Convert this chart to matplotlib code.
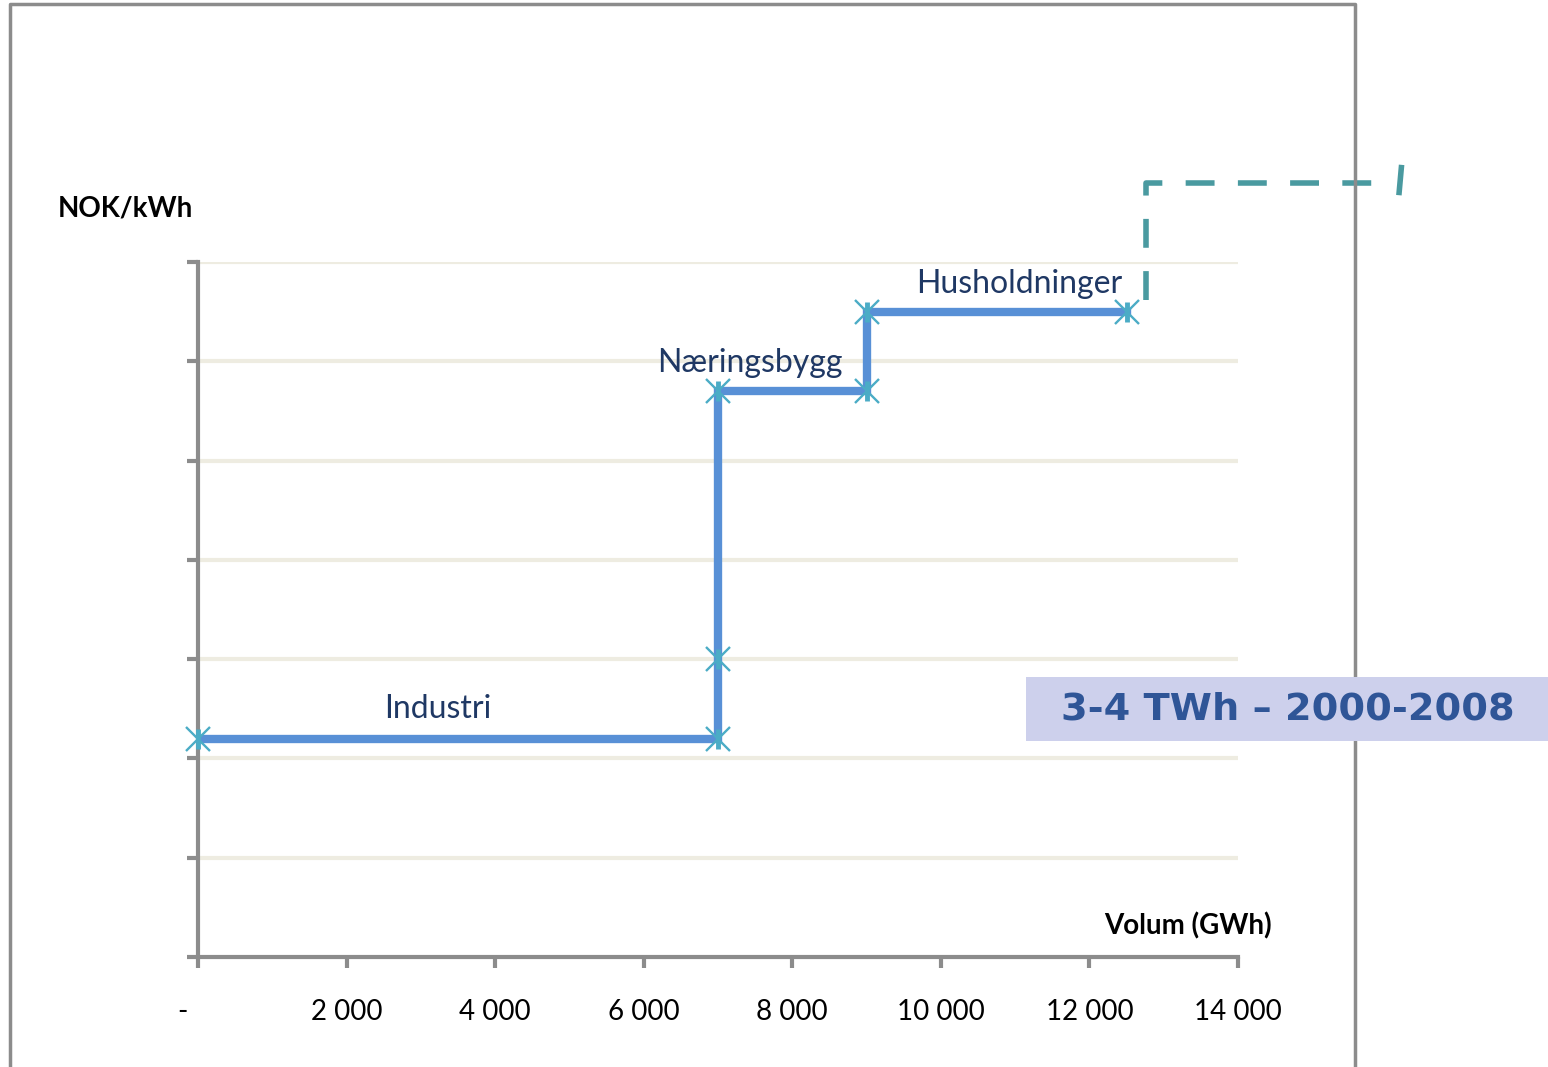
import matplotlib.pyplot as plt
import matplotlib.transforms as mtransforms
from matplotlib.lines import Line2D
from matplotlib.patches import Rectangle

# step curve: volume (GWh) vs cost (NOK/kWh)
volum = [0, 7000, 7000, 7000, 9000, 9000, 12500]
kostnad = [2.2, 2.2, 3.0, 5.7, 5.7, 6.5, 6.5]

# dashed continuation beyond the chart
volum_dash = [12760, 12760, 15850]
kostnad_dash = [6.62, 7.8, 7.8]

x_ticks = [0, 2000, 4000, 6000, 8000, 10000, 12000, 14000]
x_labels = ["-", "2 000", "4 000", "6 000", "8 000", "10 000", "12 000", "14 000"]
y_ticks = [0, 1, 2, 3, 4, 5, 6, 7]

segment_labels = ["Industri", "Næringsbygg", "Husholdninger"]
label_pos = [(3230, 2.41), (7430, 5.89), (11050, 6.69)]

axis_grey = "#8c8c8c"
line_blue = "#5890d6"
marker_teal = "#4bacc6"
dash_teal = "#4a9aa0"
text_navy = "#1f3864"

plt.rcParams["font.family"] = ["Lato", "DejaVu Sans"]

fig = plt.figure(figsize=(15.48, 10.67), dpi=100)
ax = fig.add_axes([0.1279, 0.1031, 0.6718, 0.6514])

for y in y_ticks[1:]:
    ax.axhline(y, color="#eeece1", lw=3, zorder=0)

ax.plot(volum, kostnad, color=line_blue, lw=6, zorder=3, solid_joinstyle="miter")
ax.plot(volum, kostnad, ls="none", marker="x", ms=17, mew=1.7, color=marker_teal, zorder=4, clip_on=False)
ax.plot(volum, kostnad, ls="none", marker="|", ms=15, mew=3.5, color=marker_teal, zorder=4, clip_on=False)

ax.plot(volum_dash, kostnad_dash, color=dash_teal, lw=4, ls=(0, (5.2, 4.2)), clip_on=False, zorder=5)
ax.plot([16200, 16170], [7.95, 7.7], color=dash_teal, lw=4, clip_on=False, zorder=5)

for txt, (x, y) in zip(segment_labels, label_pos):
    ax.text(x, y, txt, fontsize=23, color=text_navy, ha="center", va="baseline")

ax.set_xlim(0, 14000)
ax.set_ylim(0, 7)
ax.set_xticks(x_ticks)
ax.set_xticklabels(x_labels)
ax.set_yticks(y_ticks)
ax.set_yticklabels([])
ax.tick_params(axis="both", direction="out", length=8, width=3, color=axis_grey,
               labelsize=20, pad=22)
for lab in ax.get_xticklabels()[:1]:
    lab.set_transform(lab.get_transform() + mtransforms.ScaledTranslation(-0.16, 0, fig.dpi_scale_trans))

for side in ["top", "right"]:
    ax.spines[side].set_visible(False)
for side in ["left", "bottom"]:
    ax.spines[side].set_color(axis_grey)
    ax.spines[side].set_linewidth(3)

fig.text(58 / 1548, 1 - 208 / 1067, "NOK/kWh", fontsize=20, fontweight="bold", va="center", ha="left")
fig.text(1272 / 1548, 1 - 926 / 1067, "Volum (GWh)", fontsize=20, fontweight="bold", va="center", ha="right")

# outer frame
fig.add_artist(Line2D([10 / 1548, 10 / 1548, 1355 / 1548, 1355 / 1548],
                      [0, 1 - 4 / 1067, 1 - 4 / 1067, 0], color=axis_grey, lw=2.5))

# highlighted note box
fig.add_artist(Rectangle((1026 / 1548, 1 - 741 / 1067), 522 / 1548, 64 / 1067,
                         facecolor="#cdd0ec", edgecolor="none", zorder=10))
fig.text(1288 / 1548, 1 - 710 / 1067, "3-4 TWh \u2013 2000-2008", fontsize=27.5, fontweight="bold",
         color="#2f5597", family=["DejaVu Sans"], ha="center", va="center", zorder=11)

fig.savefig("out.png", dpi=100)
